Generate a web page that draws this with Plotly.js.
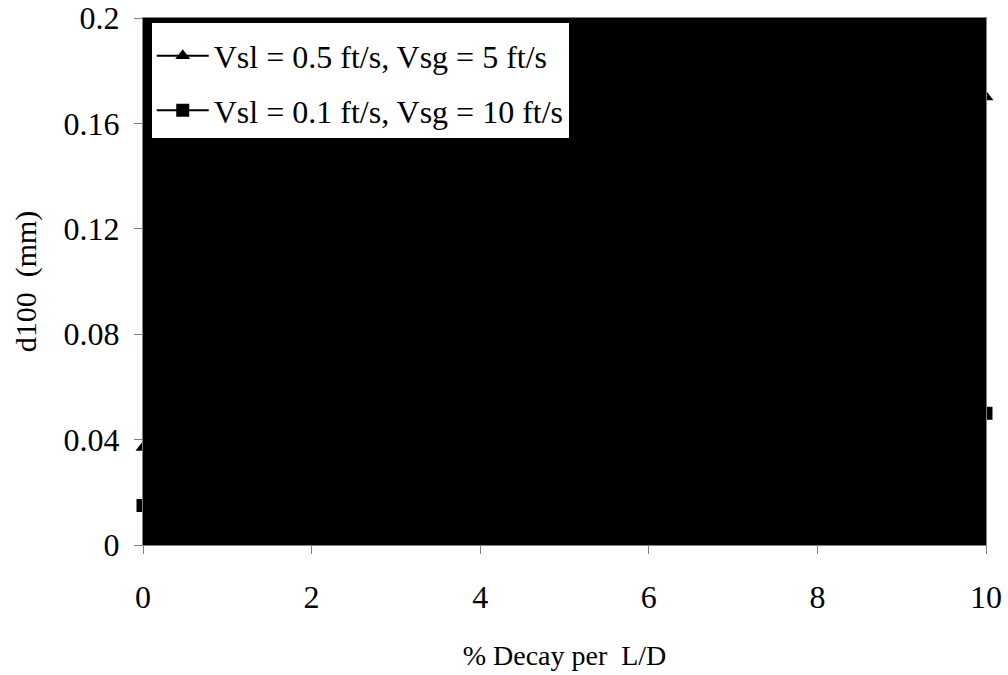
<!DOCTYPE html>
<html><head><meta charset="utf-8">
<script src="https://cdn.plot.ly/plotly-3.0.1.min.js"></script>
<style>html,body{margin:0;padding:0;background:#fff}</style>
</head><body>
<div id="chart" style="width:1008px;height:675px"></div>
<script>
const decay = [0, 10];
const seriesAName = "Vsl = 0.5 ft/s, Vsg = 5 ft/s";
const seriesAValues = [0.037, 0.17];
const seriesBName = "Vsl = 0.1 ft/s, Vsg = 10 ft/s";
const seriesBValues = [0.015, 0.05];
const xTicks = [0, 2, 4, 6, 8, 10];
const yTicks = [0, 0.04, 0.08, 0.12, 0.16, 0.2];
const yTickText = ["0", "0.04", "0.08", "0.12", "0.16", "0.2"];
const xTitle = "% Decay per \u00a0L/D";
const yTitle = "d100 \u00a0(mm)";

const font = "Times New Roman";
const traces = [
  {x: decay, y: seriesAValues, name: seriesAName, type: "scatter", mode: "lines+markers",
   legendgroup: "a", line: {color: "#000", width: 2},
   marker: {symbol: "triangle-up", size: 13, color: "#000"}, cliponaxis: false},
  {x: decay, y: seriesBValues, name: seriesBName, type: "scatter", mode: "lines+markers",
   legendgroup: "b", line: {color: "#000", width: 2},
   marker: {symbol: "square", size: 13, color: "#000"}, cliponaxis: false}
];
const layout = {
  width: 1008, height: 675,
  margin: {l: 143, r: 22, t: 18, b: 130},
  paper_bgcolor: "#fff", plot_bgcolor: "#000",
  font: {family: font, color: "#000", size: 24},
  showlegend: true,
  legend: {x: 0.008, y: 0.994, xanchor: "left", yanchor: "top",
           bgcolor: "#fff", bordercolor: "#000", borderwidth: 2,
           font: {family: font, size: 32, color: "#000"},
           itemwidth: 52,
           title: {text: " ", font: {family: font, size: 4}},
           traceorder: "grouped", tracegroupgap: 10},
  xaxis: {range: [0, 10], tickvals: xTicks, ticks: "outside", ticklen: 8, tickcolor: "#808080",
          showline: true, linecolor: "#808080", linewidth: 1, mirror: true, showgrid: false, zeroline: false,
          ticklabelstandoff: 16, tickfont: {family: font, size: 32},
          title: {text: xTitle, font: {family: font, size: 28}, standoff: 30}},
  yaxis: {range: [0, 0.2], tickvals: yTicks, ticktext: yTickText, ticks: "outside", ticklen: 8, tickcolor: "#808080",
          showline: true, linecolor: "#808080", linewidth: 1, mirror: true, showgrid: false, zeroline: false,
          ticklabelstandoff: 8, tickfont: {family: font, size: 32},
          title: {text: yTitle, font: {family: font, size: 30}, standoff: 18}}
};
Plotly.newPlot("chart", traces, layout, {displayModeBar: false, staticPlot: true});
</script>
</body></html>
